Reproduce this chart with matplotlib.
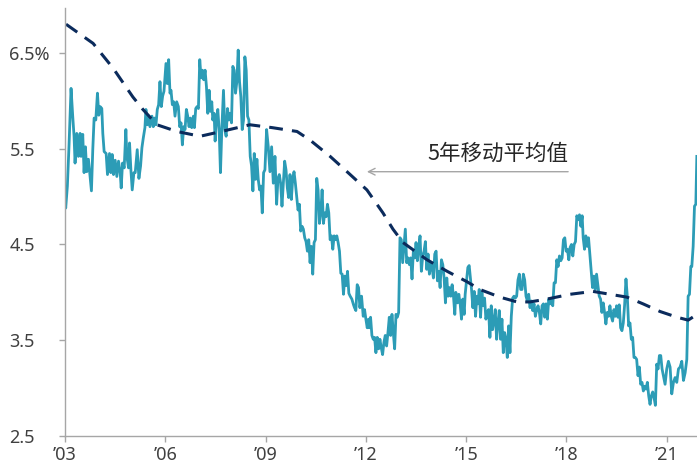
import matplotlib
matplotlib.use("Agg")
import matplotlib.pyplot as plt

plt.rcParams['font.family'] = ['Noto Sans', 'Noto Sans CJK SC', 'DejaVu Sans']

# weekly yield (%)
years = [
    2003.00, 2003.02, 2003.07, 2003.12, 2003.18, 2003.23, 2003.27, 2003.30, 2003.35, 2003.40,
    2003.45, 2003.48, 2003.53, 2003.57, 2003.61, 2003.65, 2003.70, 2003.75, 2003.79, 2003.83,
    2003.87, 2003.92, 2003.97, 2004.01, 2004.05, 2004.10, 2004.13, 2004.17, 2004.23, 2004.27,
    2004.33, 2004.37, 2004.41, 2004.45, 2004.50, 2004.55, 2004.60, 2004.65, 2004.68, 2004.72,
    2004.77, 2004.82, 2004.85, 2004.90, 2004.93, 2004.97, 2005.01, 2005.06, 2005.10, 2005.16,
    2005.21, 2005.26, 2005.30, 2005.34, 2005.39, 2005.42, 2005.46, 2005.50, 2005.54, 2005.60,
    2005.64, 2005.68, 2005.72, 2005.76, 2005.80, 2005.84, 2005.88, 2005.92, 2005.96, 2006.02,
    2006.06, 2006.10,
    2006.14, 2006.17, 2006.21, 2006.25, 2006.29, 2006.34, 2006.39, 2006.43, 2006.47, 2006.51,
    2006.55, 2006.59, 2006.63, 2006.67, 2006.71, 2006.75, 2006.79, 2006.84, 2006.87, 2006.91,
    2006.95, 2006.99, 2007.03, 2007.07, 2007.11, 2007.15, 2007.19, 2007.23, 2007.27, 2007.31,
    2007.35, 2007.39, 2007.42, 2007.46, 2007.49, 2007.53, 2007.57, 2007.61, 2007.65, 2007.69,
    2007.74, 2007.78, 2007.82, 2007.86, 2007.90, 2007.94, 2007.98, 2008.02, 2008.06, 2008.10,
    2008.14, 2008.18, 2008.22, 2008.26, 2008.30, 2008.34, 2008.38, 2008.42, 2008.46, 2008.50,
    2008.54, 2008.58, 2008.62, 2008.66, 2008.70, 2008.74, 2008.78, 2008.82, 2008.86, 2008.90,
    2008.94, 2008.98, 2009.03, 2009.08, 2009.13, 2009.18, 2009.23, 2009.28,
    2009.33, 2009.37, 2009.41, 2009.45, 2009.49, 2009.53, 2009.57, 2009.61, 2009.65, 2009.69,
    2009.73, 2009.77, 2009.81, 2009.85, 2009.89, 2009.93, 2009.97, 2010.01, 2010.05, 2010.09,
    2010.13, 2010.17, 2010.21, 2010.25, 2010.29, 2010.33, 2010.37, 2010.41, 2010.45, 2010.49,
    2010.53, 2010.57, 2010.61, 2010.65, 2010.69, 2010.73, 2010.77, 2010.81, 2010.85, 2010.89,
    2010.93, 2010.97, 2011.01, 2011.05, 2011.09, 2011.13, 2011.17, 2011.21, 2011.25, 2011.29,
    2011.33, 2011.37, 2011.41, 2011.45, 2011.49, 2011.53, 2011.58, 2011.63, 2011.66, 2011.70,
    2011.74, 2011.78, 2011.82, 2011.87, 2011.92, 2011.96, 2012.00, 2012.04, 2012.08,
    2012.10, 2012.14, 2012.18, 2012.22, 2012.26, 2012.30, 2012.34, 2012.38, 2012.42, 2012.46,
    2012.50, 2012.54, 2012.58, 2012.62, 2012.66, 2012.70, 2012.74, 2012.78, 2012.82, 2012.86,
    2012.90, 2012.94, 2012.98, 2013.02, 2013.06, 2013.10, 2013.14, 2013.18, 2013.22, 2013.26,
    2013.30, 2013.34, 2013.38, 2013.42, 2013.46, 2013.50, 2013.54, 2013.58, 2013.62, 2013.66,
    2013.70, 2013.74, 2013.78, 2013.82, 2013.86, 2013.90, 2013.94, 2013.98, 2014.02, 2014.06,
    2014.10, 2014.14, 2014.18, 2014.22, 2014.26, 2014.30, 2014.34, 2014.38, 2014.42, 2014.46,
    2014.50, 2014.54, 2014.58, 2014.62, 2014.66, 2014.69, 2014.74, 2014.78, 2014.82, 2014.86,
    2014.90, 2014.94, 2014.97, 2015.01, 2015.05, 2015.09,
    2015.16, 2015.20, 2015.24, 2015.28, 2015.32, 2015.35, 2015.39, 2015.43, 2015.47, 2015.51,
    2015.55, 2015.59, 2015.63, 2015.67, 2015.71, 2015.75, 2015.79, 2015.83, 2015.87, 2015.91,
    2015.95, 2015.99, 2016.03, 2016.07, 2016.11, 2016.15, 2016.19, 2016.23, 2016.27, 2016.31,
    2016.35, 2016.39, 2016.43, 2016.47, 2016.51, 2016.55, 2016.59, 2016.63, 2016.67, 2016.71,
    2016.75, 2016.79, 2016.83, 2016.87, 2016.91, 2016.95, 2016.99, 2017.03, 2017.07, 2017.11,
    2017.15, 2017.19, 2017.23, 2017.27, 2017.31, 2017.35, 2017.39, 2017.43, 2017.47, 2017.51,
    2017.55, 2017.59, 2017.63, 2017.67, 2017.71, 2017.75, 2017.79, 2017.83, 2017.87, 2017.91,
    2017.95, 2017.99, 2018.03, 2018.07,
    2018.11, 2018.15, 2018.19, 2018.23, 2018.27, 2018.31, 2018.35, 2018.39, 2018.43, 2018.47,
    2018.50, 2018.54, 2018.58, 2018.62, 2018.66, 2018.70, 2018.74, 2018.78, 2018.82, 2018.86,
    2018.90, 2018.94, 2018.98, 2019.02, 2019.06, 2019.10, 2019.14, 2019.18, 2019.22, 2019.26,
    2019.30, 2019.34, 2019.38, 2019.42, 2019.46, 2019.50, 2019.54, 2019.58, 2019.62, 2019.66,
    2019.70, 2019.74, 2019.78, 2019.82, 2019.86, 2019.90, 2019.94, 2019.98, 2020.02, 2020.06,
    2020.10, 2020.14, 2020.18, 2020.22, 2020.26, 2020.30, 2020.34, 2020.38, 2020.42, 2020.46,
    2020.50, 2020.54, 2020.58, 2020.62, 2020.66, 2020.70, 2020.74, 2020.78, 2020.82, 2020.86,
    2020.90, 2020.95, 2021.00, 2021.05, 2021.10, 2021.15, 2021.20, 2021.25, 2021.30, 2021.35,
    2021.40, 2021.45, 2021.50, 2021.55, 2021.60, 2021.64, 2021.68, 2021.72, 2021.75, 2021.79,
    2021.83, 2021.87, 2021.89, 2021.90,
]
yields = [
    4.99, 4.88, 5.11, 5.54, 6.13, 5.84, 5.63, 5.35, 5.66, 5.42,
    5.66, 5.42, 5.65, 5.25, 5.52, 5.26, 5.39, 5.21, 5.06, 5.49,
    5.82, 5.80, 6.08, 5.85, 5.94, 5.92, 5.66, 5.47, 5.45, 5.23,
    5.45, 5.25, 5.44, 5.23, 5.38, 5.21, 5.37, 5.25, 5.09, 5.35,
    5.30, 5.70, 5.42, 5.30, 5.56, 5.28, 5.07, 5.25, 5.25, 5.49,
    5.19, 5.32, 5.51, 5.61, 5.72, 5.91, 5.75, 5.84, 5.73, 5.84,
    5.73, 5.82, 5.75, 5.91, 5.96, 6.20, 5.94, 6.05, 6.10, 6.39,
    6.18, 6.43,
    6.08, 6.11, 5.96, 5.99, 5.84, 5.99, 5.94, 5.73, 5.77, 5.54,
    5.73, 5.70, 5.91, 5.84, 5.73, 5.82, 5.72, 5.84, 5.72, 5.92,
    5.94, 5.92, 6.43, 6.24, 6.32, 6.22, 6.32, 6.15, 5.87, 6.11,
    5.89, 5.99, 5.80, 5.87, 5.58, 5.80, 5.91, 5.70, 5.25, 5.70,
    6.11, 5.70, 5.63, 5.92, 5.80, 5.87, 5.77, 6.36, 6.32, 6.08,
    6.20, 6.53, 6.20, 6.04, 5.70, 5.80, 6.46, 6.32, 5.84, 5.80,
    5.42, 5.32, 5.06, 5.45, 5.18, 5.39, 5.18, 5.07, 5.11, 4.83,
    5.25, 5.28, 5.70, 5.52, 5.26, 5.52, 5.14, 5.42,
    4.92, 5.19, 5.23, 5.14, 4.90, 5.14, 5.37, 5.28, 5.09, 4.99,
    5.23, 4.97, 5.18, 5.26, 5.14, 5.00, 4.86, 4.92, 4.64, 4.69,
    4.66, 4.57, 4.53, 4.43, 4.55, 4.31, 4.48, 4.19, 4.52, 4.55,
    5.19, 5.07, 4.72, 4.83, 5.07, 4.72, 4.83, 4.79, 4.92, 4.83,
    4.55, 4.59, 4.45, 4.59, 4.55, 4.59, 4.52, 4.43, 4.20, 4.19,
    3.98, 4.17, 4.07, 4.22, 3.99, 3.96, 3.93, 3.87, 3.84, 3.81,
    4.08, 4.05, 3.84, 3.96, 3.75, 3.82, 3.72, 3.63, 3.72,
    3.63, 3.74, 3.55, 3.51, 3.53, 3.37, 3.53, 3.41, 3.51, 3.42,
    3.35, 3.48, 3.55, 3.44, 3.58, 3.74, 3.55, 3.77, 3.58, 3.41,
    3.77, 3.74, 3.79, 4.57, 4.55, 4.31, 4.48, 4.66, 4.31, 4.36,
    4.29, 4.36, 4.14, 4.43, 4.36, 4.52, 4.33, 4.47, 4.59, 4.22,
    4.38, 4.43, 4.53, 4.24, 4.40, 4.19, 4.31, 4.26, 4.15, 4.40,
    4.43, 4.12, 4.22, 4.05, 4.34, 4.29, 4.15, 3.89, 4.15, 3.96,
    4.05, 3.96, 4.08, 3.96, 3.77, 4.00, 3.89, 3.98, 3.88, 3.72,
    3.93, 3.77, 3.98, 4.12, 4.26, 4.28,
    4.03, 3.84, 4.01, 3.75, 3.96, 3.88, 4.03, 3.74, 4.00, 3.86,
    3.94, 3.72, 3.79, 3.82, 3.53, 3.86, 3.61, 3.70, 3.82, 3.51,
    3.68, 3.81, 3.51, 3.72, 3.37, 3.58, 3.51, 3.32, 3.65, 3.37,
    3.75, 3.94, 3.96, 3.94, 3.96, 4.13, 4.19, 4.03, 4.03, 4.19,
    4.13, 3.96, 3.91, 3.98, 3.84, 3.91, 3.81, 3.88, 3.75, 3.82,
    3.86, 3.79, 3.67, 3.86, 3.88, 3.74, 3.88, 3.72, 3.93, 3.88,
    3.93, 3.86, 4.10, 4.10, 4.34, 4.27, 4.38, 4.33, 4.36, 4.55,
    4.57, 4.43, 4.45, 4.34,
    4.47, 4.50, 4.38, 4.50, 4.53, 4.80, 4.76, 4.81, 4.69, 4.80,
    4.57, 4.45, 4.59, 4.48, 4.57, 4.40, 4.24, 4.05, 4.17, 4.03,
    4.19, 4.07, 3.96, 3.93, 3.79, 3.89, 3.79, 3.67, 3.79, 3.75,
    3.86, 3.75, 3.70, 3.82, 3.75, 3.86, 3.74, 3.87, 3.63, 3.60,
    3.68, 3.87, 4.14, 3.96, 3.65, 3.68, 3.51, 3.53, 3.32, 3.32,
    3.30, 3.13, 3.22, 3.04, 3.06, 2.97, 3.02, 2.99, 3.06, 2.92,
    2.83, 2.92, 2.96, 2.90, 2.82, 3.25, 3.20, 3.34, 3.34, 3.20,
    3.13, 3.04, 3.20, 3.28, 3.22, 2.94, 3.06, 3.11, 3.06, 3.20,
    3.22, 3.28, 3.08, 3.16, 3.30, 3.96, 3.98, 4.27, 4.27, 4.48,
    4.90, 4.92, 5.28, 5.42,
]

# 5-year moving average
ma_years = [2003.03, 2003.84, 2004.44, 2005.03, 2005.33, 2005.75, 2006.35, 2007.04, 2007.55, 2008.53,
            2009.20, 2009.94, 2010.33, 2010.93, 2011.53, 2012.03, 2012.51, 2012.81, 2013.11, 2013.83,
            2014.43, 2015.03, 2015.41, 2016.01, 2016.52, 2016.91, 2017.42, 2018.11, 2018.79, 2019.30,
            2019.81, 2020.29, 2020.80, 2021.31, 2021.64, 2021.91]
ma_values = [6.80, 6.60, 6.34, 6.04, 5.91, 5.75, 5.68, 5.63, 5.67, 5.75,
             5.72, 5.68, 5.59, 5.42, 5.23, 5.07, 4.83, 4.66, 4.52, 4.34,
             4.22, 4.11, 4.03, 3.95, 3.90, 3.90, 3.93, 3.98, 4.01, 3.98,
             3.95, 3.88, 3.80, 3.74, 3.71, 3.77]

xticks = [2003, 2006, 2009, 2012, 2015, 2018, 2021]
xlabels = ["\u201903", "\u201906", "\u201909", "\u201912", "\u201915", "\u201918", "\u201921"]
yticks = [2.5, 3.5, 4.5, 5.5, 6.5]
ylabels = ["2.5", "3.5", "4.5", "5.5", "6.5%"]

fig = plt.figure(figsize=(6.97, 4.68), dpi=100)
ax = fig.add_axes([0.0933, 0.0684, 0.9067, 0.9146])

ax.plot(years, yields, color="#2C9CB6", lw=2.0, solid_joinstyle="round")
ax.plot(ma_years, ma_values, color="#0B2B5C", lw=2.2, linestyle=(0, (4.5, 3)))

ax.annotate("", xy=(2012.03, 5.26), xytext=(2018.05, 5.26),
            arrowprops=dict(arrowstyle="->", color="#A6A6A6", lw=1.0,
                            shrinkA=0, shrinkB=0, mutation_scale=12))
ax.text(2018.05, 5.45, "5年移动平均值", ha="right", va="center",
        fontsize=15.5, color="#262626", family=["Noto Sans CJK SC", "DejaVu Sans"])

ax.set_xlim(2003, 2021.905)
ax.set_ylim(2.5, 6.97)
ax.set_xticks(xticks)
ax.set_xticklabels(xlabels)
ax.set_yticks(yticks)
ax.set_yticklabels(ylabels, ha="left")

for s in ["top", "right"]:
    ax.spines[s].set_visible(False)
for s in ["left", "bottom"]:
    ax.spines[s].set_color("#A6A6A6")
    ax.spines[s].set_linewidth(1.0)

ax.tick_params(axis="both", colors="#A6A6A6", length=4, width=1.0,
               labelsize=13, labelcolor="#404040")
ax.tick_params(axis="y", pad=36)
ax.tick_params(axis="x", pad=3)

fig.savefig("out.png", dpi=100)
